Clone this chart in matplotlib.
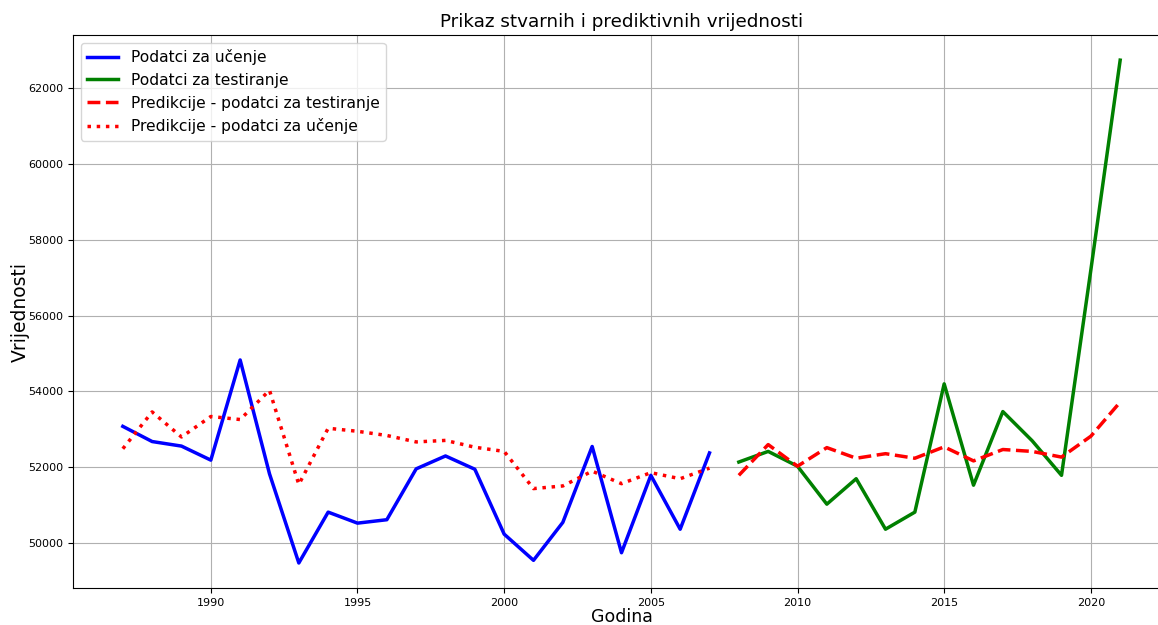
import matplotlib.pyplot as plt

# godine
years_train = list(range(1987, 2008))
years_test = list(range(2008, 2022))

# stvarne vrijednosti - ucenje
train_values = [53080, 52680, 52560, 52190, 54830, 51830, 49480, 50820, 50530, 50620,
                51960, 52300, 51950, 50240, 49550, 50550, 52550, 49750, 51790, 50370, 52380]
# stvarne vrijednosti - testiranje
test_values = [52140, 52420, 52030, 51030, 51700, 50370, 50820, 54200, 51530, 53470,
               52700, 51790, 57200, 62730]
# predikcije
pred_train = [52490, 53460, 52800, 53340, 53260, 54030, 51550, 53030, 52950, 52840,
              52670, 52710, 52530, 52420, 51440, 51510, 51900, 51570, 51860, 51700, 51980]
pred_test = [51790, 52600, 52030, 52520, 52240, 52360, 52240, 52540, 52170, 52470,
             52420, 52270, 52820, 53720]

fig, ax = plt.subplots(figsize=(11.58, 6.25), dpi=100)
# desni rub osi izlazi malo izvan slike (kao na originalu)
fig.subplots_adjust(left=0.063, right=1.0104, top=0.944, bottom=0.059)

ax.plot(years_train, train_values, color='blue', linewidth=2.5, label='Podatci za učenje')
ax.plot(years_test, test_values, color='green', linewidth=2.5, label='Podatci za testiranje')
ax.plot(years_test, pred_test, color='red', linestyle='--', linewidth=2.5,
        label='Predikcije - podatci za testiranje')
ax.plot(years_train, pred_train, color='red', linestyle=':', linewidth=2.5,
        label='Predikcije - podatci za učenje')

ax.set_title('Prikaz stvarnih i prediktivnih vrijednosti', fontsize=13.2)
ax.set_xlabel('Godina', fontsize=12.5, labelpad=0)
ax.set_ylabel('Vrijednosti', fontsize=13.5, labelpad=-1)
ax.tick_params(labelsize=8)
ax.grid(True)
ax.legend(loc='upper left', fontsize=11.2)

fig.savefig('out.png')
